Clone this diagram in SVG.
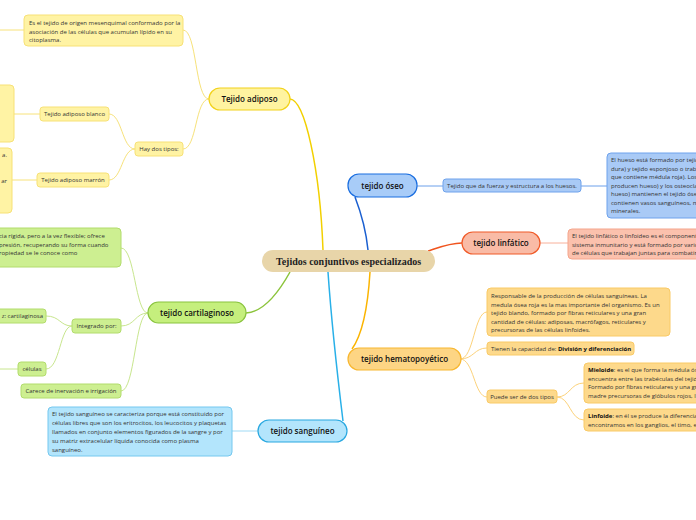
<svg xmlns="http://www.w3.org/2000/svg" width="696" height="520" viewBox="0 0 696 520">
<style>
.t{font-family:"Open Sans","Noto Sans","DejaVu Sans",sans-serif;font-size:6px;fill:#333}
.m{font-family:"Open Sans","Noto Sans","DejaVu Sans",sans-serif;font-size:8px;font-weight:600;fill:#111;text-anchor:middle}
.c{font-family:"Liberation Serif","Times New Roman",serif;font-size:10px;font-weight:bold;fill:#222;text-anchor:middle}
.mid{text-anchor:middle}
.b{font-weight:bold;fill:#111}
.sub{fill:none;stroke-width:1}
.main{fill:none;stroke-width:1.5}
.y{fill:#fff3a4;stroke:#f7e177;stroke-width:1}
.g{fill:#cdef91;stroke:#b2dc6c;stroke-width:1}
.lb{fill:#b3e5fc;stroke:#74c8ef;stroke-width:1}
.bl{fill:#a9caf6;stroke:#6ea2ec;stroke-width:1}
.rd{fill:#fbc1ad;stroke:#f5a58c;stroke-width:1}
.o{fill:#fdd98b;stroke:#f9ca66;stroke-width:1}
</style>
<rect width="696" height="520" fill="#ffffff"/>
<g id="connectors">
<path class="main" stroke="#f2d000" d="M323 250 C320 170 305 100 290 99"/>
<path class="main" stroke="#1a5fd0" d="M368 250 C366 230 360 210 355 197"/>
<path class="main" stroke="#f0541e" d="M428 251 C440 247 450 243 462 243"/>
<path class="main" stroke="#fbb400" d="M370 272 C368 305 362 335 352 349"/>
<path class="main" stroke="#29b0e8" d="M328 272 C332 330 338 380 343 421"/>
<path class="main" stroke="#8cc43c" d="M290 272 C280 290 265 312 246 313"/>
<g stroke="#f7e27a" class="sub">
<path d="M209 99 C195 99 197 30 183 30"/>
<path d="M209 99 C195 99 197 149 183 149"/>
<path d="M135 149 C122 149 122 114 109 114"/>
<path d="M135 149 C122 149 122 180 109 180"/>
<path d="M40 114 H14"/>
<path d="M37 180 H12"/>
<path d="M24 30 H0"/>
</g>
<g stroke="#c8e68e" class="sub">
<path d="M148 313 C135 313 135 248 121 248"/>
<path d="M148 313 C135 313 135 326 121 326"/>
<path d="M148 313 C135 313 135 391 121 391"/>
<path d="M72 326 C60 326 60 316 46 316"/>
<path d="M72 326 C60 326 60 369 46 369"/>
<path d="M18 369 H0"/>
</g>
<path class="sub" stroke="#9fdaf5" d="M258 431 H232"/>
<path class="sub" stroke="#6ca0ea" d="M417 186 H443 M581 186 H607"/>
<path class="sub" stroke="#f8b09a" d="M540 243 H568"/>
<g stroke="#fcd27a" class="sub">
<path d="M460 359 C474 359 474 312 487 312"/>
<path d="M460 359 C474 359 474 348 487 348"/>
<path d="M460 359 C474 359 474 397 487 397"/>
<path d="M557 397 C570 397 570 383 584 383"/>
<path d="M557 397 C570 397 570 420 584 420"/>
</g>
</g>
<g id="central">
<rect x="262" y="250" width="173" height="22" rx="11" fill="#e8d5a9"/>
<text class="c" x="348.5" y="264.5">Tejidos conjuntivos especializados</text>
</g>
<g id="adiposo">
<rect x="209" y="88" width="81" height="22" rx="11" fill="#fff3a0" stroke="#f2d21a" stroke-width="1.2"/>
<text class="m" x="249.5" y="102">Tejido adiposo</text>
</g>
<g id="adiposo-desc">
<rect class="y" x="24" y="15" width="159" height="31" rx="4"/>
<text class="t" x="29" y="25">Es el tejido de origen mesenquimal conformado por la</text>
<text class="t" x="29" y="33.5">asociación de las células que acumulan lípido en su</text>
<text class="t" x="29" y="42">citoplasma.</text>
</g>
<g id="hay-dos-tipos">
<rect class="y" x="135" y="142" width="48" height="14" rx="3"/>
<text class="t mid" x="159" y="151.3">Hay dos tipos:</text>
</g>
<g id="blanco">
<rect class="y" x="40" y="107" width="69" height="14" rx="3"/>
<text class="t mid" x="74.5" y="116.3">Tejido adiposo blanco</text>
</g>
<g id="blanco-desc">
<rect class="y" x="-10" y="85" width="24" height="57" rx="4"/>
</g>
<g id="marron">
<rect class="y" x="37" y="173" width="72" height="14" rx="3"/>
<text class="t mid" x="73" y="182.3">Tejido adiposo marrón</text>
</g>
<g id="marron-desc">
<rect class="y" x="-10" y="148" width="22" height="65" rx="4"/>
<text class="t" x="7" y="157" text-anchor="end">a.</text>
<text class="t" x="7" y="182.5" text-anchor="end">ar</text>
</g>
<g id="cartilaginoso">
<rect x="148" y="302" width="98" height="21" rx="10.5" fill="#c5ef7d" stroke="#8ac43f" stroke-width="1.2"/>
<text class="m" x="197" y="315.5">tejido cartilaginoso</text>
</g>
<g id="cartilaginoso-desc">
<rect class="g" x="-10" y="228" width="131" height="39" rx="4"/>
<text class="t" x="-1" y="238">cia rígida, pero a la vez flexible;  ofrece</text>
<text class="t" x="-1" y="246.5">presión, recuperando su forma cuando</text>
<text class="t" x="-1" y="255">ropiedad se le conoce como</text>
</g>
<g id="integrado">
<rect class="g" x="72" y="319" width="49" height="14" rx="3"/>
<text class="t mid" x="96.5" y="328.3">Integrado por:</text>
</g>
<g id="matriz">
<rect class="g" x="-10" y="309" width="56" height="14" rx="3"/>
<text class="t" x="43" y="318.3" text-anchor="end">z: cartilaginosa</text>
</g>
<g id="celulas">
<rect class="g" x="18" y="362" width="28" height="14" rx="3"/>
<text class="t mid" x="32" y="371.3">células</text>
</g>
<g id="carece">
<rect class="g" x="21" y="384" width="100" height="14" rx="3"/>
<text class="t mid" x="71" y="393.3">Carece de inervación e irrigación</text>
</g>
<g id="sanguineo">
<rect x="258" y="420" width="89" height="22" rx="11" fill="#b3e5fc" stroke="#29a8e0" stroke-width="1.2"/>
<text class="m" x="302.5" y="434">tejido sanguíneo</text>
</g>
<g id="sanguineo-desc">
<rect class="lb" x="48" y="407" width="184" height="49" rx="4"/>
<text class="t" x="52" y="416">El tejido sanguíneo se caracteriza porque está constituido por</text>
<text class="t" x="52" y="425">células libres que son los eritrocitos, los leucocitos y plaquetas</text>
<text class="t" x="52" y="434">llamados en conjunto elementos figurados de la sangre y por</text>
<text class="t" x="52" y="443">su matriz extracelular líquida conocida como plasma</text>
<text class="t" x="52" y="452">sanguíneo.</text>
</g>
<g id="oseo">
<rect x="348" y="174" width="69" height="23" rx="11" fill="#a8ccf8" stroke="#1a6ee0" stroke-width="1.2"/>
<text class="m" x="382.5" y="188.5">tejido óseo</text>
</g>
<g id="oseo-fuerza">
<rect class="bl" x="443" y="179" width="138" height="13" rx="3"/>
<text class="t mid" x="512" y="187.8">Tejido que da fuerza y estructura a los huesos.</text>
</g>
<g id="oseo-desc">
<rect class="bl" x="607" y="153" width="100" height="65" rx="4"/>
<text class="t" x="611" y="162">El hueso está formado por tejid</text>
<text class="t" x="611" y="170.5">dura) y tejido esponjoso o trab</text>
<text class="t" x="611" y="179">que contiene médula roja). Los</text>
<text class="t" x="611" y="187.5">producen hueso) y los osteocla</text>
<text class="t" x="611" y="196">hueso) mantienen el tejido óse</text>
<text class="t" x="611" y="204.5">contienen vasos sanguíneos, m</text>
<text class="t" x="611" y="213">minerales.</text>
</g>
<g id="linfatico">
<rect x="462" y="232" width="78" height="22" rx="11" fill="#f9bba6" stroke="#f05a28" stroke-width="1.2"/>
<text class="m" x="501" y="246">tejido linfático</text>
</g>
<g id="linfatico-desc">
<rect class="rd" x="568" y="229" width="140" height="30" rx="4"/>
<text class="t" x="572" y="238">El tejido linfático o linfoideo es el componente</text>
<text class="t" x="572" y="246.5">sistema inmunitario y está formado por varios</text>
<text class="t" x="572" y="255">de células que trabajan juntas para combatir</text>
</g>
<g id="hematopoyetico">
<rect x="348" y="348" width="113" height="22" rx="11" fill="#fdd584" stroke="#f8b730" stroke-width="1.2"/>
<text class="m" x="404.5" y="362">tejido hematopoyético</text>
</g>
<g id="hema-desc">
<rect class="o" x="487" y="288" width="183" height="48" rx="4"/>
<text class="t" x="491" y="298">Responsable de la producción de células sanguíneas. La</text>
<text class="t" x="491" y="306.5">medula ósea roja es la mas importante del organismo.  Es un</text>
<text class="t" x="491" y="315">tejido blando, formado por fibras reticulares y una gran</text>
<text class="t" x="491" y="323.5">cantidad de células:  adiposas, macrófagos, reticulares y</text>
<text class="t" x="491" y="332">precursoras de las células linfoides.</text>
</g>
<g id="hema-capacidad">
<rect class="o" x="487" y="342" width="147" height="13" rx="3"/>
<text class="t" x="491" y="350.7">Tienen la capacidad de: <tspan class="b">División y diferenciación</tspan></text>
</g>
<g id="hema-tipos">
<rect class="o" x="487" y="390" width="70" height="13" rx="3"/>
<text class="t mid" x="522" y="398.7">Puede ser de dos tipos</text>
</g>
<g id="mieloide">
<rect class="o" x="584" y="363" width="120" height="40" rx="4"/>
<text class="t" x="588" y="372"><tspan class="b">Mieloide</tspan>:  es el que forma la médula ós</text>
<text class="t" x="588" y="380.5">encuentra entre las trabéculas del tejid</text>
<text class="t" x="588" y="389">Formado por fibras reticulares y una gr</text>
<text class="t" x="588" y="397.5">madre precursoras de glóbulos rojos, l</text>
</g>
<g id="linfoide">
<rect class="o" x="584" y="409" width="120" height="22" rx="4"/>
<text class="t" x="588" y="418"><tspan class="b">Linfoide</tspan>: en él se produce la diferencia</text>
<text class="t" x="588" y="426.5">encontramos en los ganglios, el timo, e</text>
</g>
</svg>
